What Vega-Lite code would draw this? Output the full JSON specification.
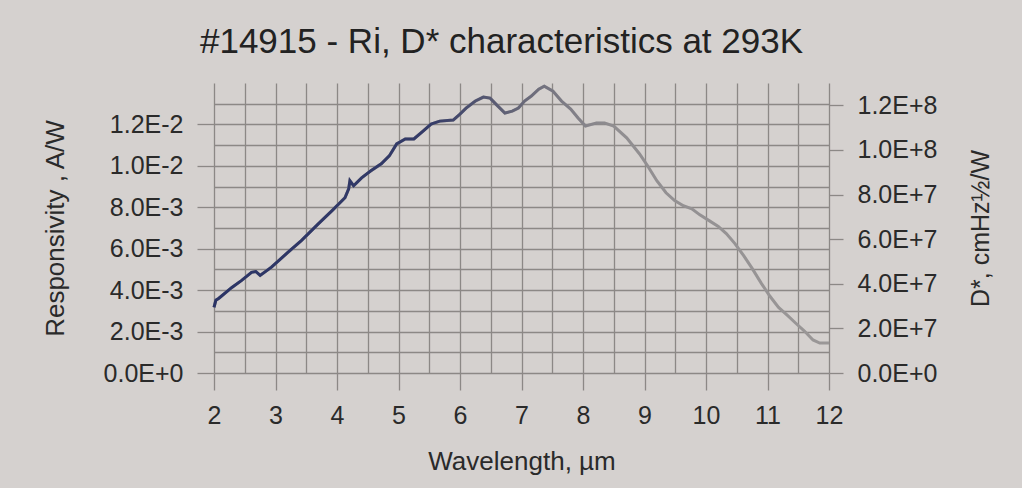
{
  "$schema": "https://vega.github.io/schema/vega-lite/v6.json",
  "width": 615,
  "height": 290,
  "autosize": "none",
  "padding": {"left": 214, "top": 83, "right": 193, "bottom": 115},
  "background": "#d5d1cf",
  "config": {
    "view": {"stroke": null},
    "font": "Liberation Sans",
    "axis": {
      "domain": false,
      "gridColor": "#8c8886",
      "gridWidth": 1.3,
      "gridOpacity": 1,
      "tickColor": "#8c8886",
      "tickWidth": 1.3,
      "labelColor": "#2a2a2a",
      "titleColor": "#2a2a2a",
      "labelFont": "Liberation Sans",
      "titleFont": "Liberation Sans",
      "titleFontWeight": "normal",
      "labelOverlap": false,
      "labelFlush": false
    }
  },
  "title": {
    "text": "#14915 - Ri, D* characteristics at 293K",
    "fontSize": 35,
    "fontWeight": "normal",
    "color": "#222222",
    "font": "Liberation Sans",
    "anchor": "middle",
    "baseline": "alphabetic",
    "offset": -8,
    "dx": -20
  },
  "data": {
    "values": [
      {"wl": 2.00, "ri": 0.00317, "dstar": 2.94e7},
      {"wl": 2.03, "ri": 0.00351, "dstar": 3.26e7},
      {"wl": 2.08, "ri": 0.00361, "dstar": 3.35e7},
      {"wl": 2.29, "ri": 0.00413, "dstar": 3.83e7},
      {"wl": 2.45, "ri": 0.00447, "dstar": 4.15e7},
      {"wl": 2.61, "ri": 0.00486, "dstar": 4.51e7},
      {"wl": 2.68, "ri": 0.00490, "dstar": 4.55e7},
      {"wl": 2.75, "ri": 0.00471, "dstar": 4.37e7},
      {"wl": 2.93, "ri": 0.00510, "dstar": 4.74e7},
      {"wl": 3.20, "ri": 0.00582, "dstar": 5.40e7},
      {"wl": 3.42, "ri": 0.00639, "dstar": 5.93e7},
      {"wl": 3.70, "ri": 0.00721, "dstar": 6.70e7},
      {"wl": 3.92, "ri": 0.00784, "dstar": 7.28e7},
      {"wl": 4.13, "ri": 0.00846, "dstar": 7.86e7},
      {"wl": 4.19, "ri": 0.00889, "dstar": 8.26e7},
      {"wl": 4.21, "ri": 0.00928, "dstar": 8.62e7},
      {"wl": 4.27, "ri": 0.00904, "dstar": 8.39e7},
      {"wl": 4.40, "ri": 0.00942, "dstar": 8.75e7},
      {"wl": 4.55, "ri": 0.00976, "dstar": 9.06e7},
      {"wl": 4.72, "ri": 0.01010, "dstar": 9.38e7},
      {"wl": 4.85, "ri": 0.01048, "dstar": 9.73e7},
      {"wl": 4.97, "ri": 0.01106, "dstar": 1.027e8},
      {"wl": 5.11, "ri": 0.01130, "dstar": 1.049e8},
      {"wl": 5.25, "ri": 0.01130, "dstar": 1.049e8},
      {"wl": 5.40, "ri": 0.01168, "dstar": 1.085e8},
      {"wl": 5.53, "ri": 0.01202, "dstar": 1.116e8},
      {"wl": 5.67, "ri": 0.01216, "dstar": 1.129e8},
      {"wl": 5.89, "ri": 0.01221, "dstar": 1.134e8},
      {"wl": 6.00, "ri": 0.01250, "dstar": 1.161e8},
      {"wl": 6.10, "ri": 0.01279, "dstar": 1.188e8},
      {"wl": 6.25, "ri": 0.01313, "dstar": 1.219e8},
      {"wl": 6.38, "ri": 0.01332, "dstar": 1.237e8},
      {"wl": 6.49, "ri": 0.01327, "dstar": 1.232e8},
      {"wl": 6.60, "ri": 0.01293, "dstar": 1.201e8},
      {"wl": 6.73, "ri": 0.01255, "dstar": 1.165e8},
      {"wl": 6.85, "ri": 0.01264, "dstar": 1.174e8},
      {"wl": 6.95, "ri": 0.01279, "dstar": 1.188e8},
      {"wl": 7.05, "ri": 0.01313, "dstar": 1.219e8},
      {"wl": 7.16, "ri": 0.01337, "dstar": 1.241e8},
      {"wl": 7.28, "ri": 0.01370, "dstar": 1.272e8},
      {"wl": 7.37, "ri": 0.01385, "dstar": 1.286e8},
      {"wl": 7.51, "ri": 0.01361, "dstar": 1.264e8},
      {"wl": 7.65, "ri": 0.01313, "dstar": 1.219e8},
      {"wl": 7.80, "ri": 0.01274, "dstar": 1.183e8},
      {"wl": 7.92, "ri": 0.01231, "dstar": 1.143e8},
      {"wl": 8.04, "ri": 0.01192, "dstar": 1.107e8},
      {"wl": 8.22, "ri": 0.01207, "dstar": 1.121e8},
      {"wl": 8.35, "ri": 0.01207, "dstar": 1.121e8},
      {"wl": 8.50, "ri": 0.01192, "dstar": 1.107e8},
      {"wl": 8.71, "ri": 0.01135, "dstar": 1.054e8},
      {"wl": 8.92, "ri": 0.01058, "dstar": 9.82e7},
      {"wl": 9.05, "ri": 0.01000, "dstar": 9.29e7},
      {"wl": 9.20, "ri": 0.00928, "dstar": 8.62e7},
      {"wl": 9.35, "ri": 0.00870, "dstar": 8.08e7},
      {"wl": 9.49, "ri": 0.00832, "dstar": 7.73e7},
      {"wl": 9.63, "ri": 0.00808, "dstar": 7.50e7},
      {"wl": 9.77, "ri": 0.00793, "dstar": 7.36e7},
      {"wl": 9.90, "ri": 0.00764, "dstar": 7.09e7},
      {"wl": 10.05, "ri": 0.00736, "dstar": 6.83e7},
      {"wl": 10.20, "ri": 0.00707, "dstar": 6.57e7},
      {"wl": 10.33, "ri": 0.00673, "dstar": 6.25e7},
      {"wl": 10.47, "ri": 0.00625, "dstar": 5.80e7},
      {"wl": 10.61, "ri": 0.00567, "dstar": 5.27e7},
      {"wl": 10.75, "ri": 0.00505, "dstar": 4.69e7},
      {"wl": 10.90, "ri": 0.00433, "dstar": 4.02e7},
      {"wl": 11.04, "ri": 0.00370, "dstar": 3.44e7},
      {"wl": 11.18, "ri": 0.00317, "dstar": 2.94e7},
      {"wl": 11.32, "ri": 0.00279, "dstar": 2.59e7},
      {"wl": 11.46, "ri": 0.00240, "dstar": 2.23e7},
      {"wl": 11.60, "ri": 0.00202, "dstar": 1.88e7},
      {"wl": 11.74, "ri": 0.00159, "dstar": 1.48e7},
      {"wl": 11.85, "ri": 0.00144, "dstar": 1.34e7},
      {"wl": 11.95, "ri": 0.00144, "dstar": 1.34e7},
      {"wl": 12.00, "ri": 0.00144, "dstar": 1.34e7}
    ]
  },
  "encoding": {
    "x": {
      "field": "wl",
      "type": "quantitative",
      "scale": {"domain": [2, 12], "nice": false, "zero": false},
      "axis": {
        "values": [2, 2.5, 3, 3.5, 4, 4.5, 5, 5.5, 6, 6.5, 7, 7.5, 8, 8.5, 9, 9.5, 10, 10.5, 11, 11.5, 12],
        "labelExpr": "datum.value % 1 ? '' : format(datum.value, 'd')",
        "grid": true,
        "tickSize": 17,
        "tickOpacity": {"condition": {"test": "datum.value % 1 !== 0", "value": 0}, "value": 1},
        "labelFontSize": 25,
        "labelPadding": 13,
        "title": "Wavelength, µm",
        "titleFontSize": 26,
        "titlePadding": 20
      }
    }
  },
  "layer": [
    {
      "mark": {"type": "line", "color": "#9a9797", "strokeWidth": 3, "interpolate": "linear"},
      "encoding": {
        "y": {
          "field": "dstar",
          "type": "quantitative",
          "scale": {"domain": [0, 1.3e8], "nice": false},
          "axis": {
            "orient": "right",
            "values": [0, 2e7, 4e7, 6e7, 8e7, 1e8, 1.2e8],
            "labelExpr": "upper(format(datum.value, '.1e'))",
            "grid": false,
            "tickSize": 14,
            "labelPadding": 14,
            "labelFontSize": 25,
            "title": "D*, cmHz½/W",
            "titleFontSize": 25,
            "titleAngle": -90,
            "titleBaseline": "top",
            "titlePadding": 32
          }
        }
      }
    },
    {
      "mark": {
        "type": "line",
        "strokeWidth": 3,
        "interpolate": "linear",
        "color": {
          "gradient": "linear",
          "x1": 0, "y1": 0, "x2": 1, "y2": 0,
          "stops": [
            {"offset": 0, "color": "#2b3466"},
            {"offset": 0.35, "color": "#343b68"},
            {"offset": 0.5, "color": "rgba(70,72,100,0.6)"},
            {"offset": 0.65, "color": "rgba(90,90,110,0.15)"},
            {"offset": 1, "color": "rgba(90,90,110,0)"}
          ]
        }
      },
      "encoding": {
        "y": {
          "field": "ri",
          "type": "quantitative",
          "scale": {"domain": [0, 0.014], "nice": false},
          "axis": {
            "orient": "left",
            "values": [0, 0.001, 0.002, 0.003, 0.004, 0.005, 0.006, 0.007, 0.008, 0.009, 0.01, 0.011, 0.012, 0.013],
            "labelExpr": "round(datum.value * 1000) % 2 === 0 ? upper(format(datum.value, '.1e')) : ''",
            "grid": true,
            "tickSize": 17,
            "tickOpacity": {"condition": {"test": "round(datum.value * 1000) % 2 === 1", "value": 0}, "value": 1},
            "labelPadding": 14,
            "labelFontSize": 25,
            "title": "Responsivity , A/W",
            "titleFontSize": 26,
            "titlePadding": 35
          }
        }
      }
    }
  ],
  "resolve": {"scale": {"y": "independent"}}
}
